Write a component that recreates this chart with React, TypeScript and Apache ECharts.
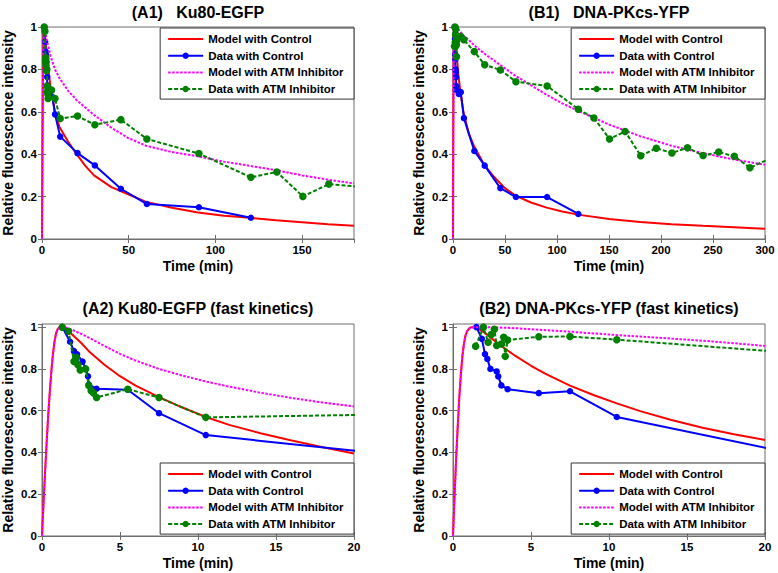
import React, { useEffect, useRef } from "react";
import * as echarts from "echarts";

const SERIES_NAMES = ["Model with Control", "Data with Control", "Model with ATM Inhibitor", "Data with ATM Inhibitor"];
const TITLES = ["(A1)   Ku80-EGFP", "(B1)   DNA-PKcs-YFP", "(A2) Ku80-EGFP (fast kinetics)", "(B2) DNA-PKcs-YFP (fast kinetics)"];
const X_NAME = "Time (min)";
const Y_NAME = "Relative fluorescence intensity";

// ---- Model curves, panel A1 (0-180 min)
const a1ModelTime = [0, 0.3, 0.6, 1.0, 1.3, 2, 3, 5, 7.5, 10, 15, 20, 25, 30, 40, 50, 60, 75, 90, 105, 120, 135, 150, 165, 180];
const a1ModelControl = [0, 0.45, 0.79, 0.99, 1.0, 0.93, 0.85, 0.71, 0.6, 0.53, 0.46, 0.4, 0.345, 0.3, 0.245, 0.21, 0.175, 0.147, 0.125, 0.11, 0.1, 0.088, 0.079, 0.07, 0.063];
const a1ModelATM = [0, 0.45, 0.79, 0.99, 1.0, 0.97, 0.93, 0.86, 0.8, 0.76, 0.7, 0.655, 0.62, 0.585, 0.525, 0.475, 0.44, 0.41, 0.39, 0.365, 0.345, 0.325, 0.3, 0.28, 0.262];

// ---- Model curves, panel B1 (0-300 min)
const b1ModelTime = [0, 0.3, 0.6, 1, 1.5, 2, 3, 5, 7.5, 10, 15, 20, 30, 40, 50, 60, 75, 90, 105, 120, 150, 180, 210, 240, 270, 300];
const b1ModelControl = [0, 0.52, 0.86, 0.99, 1.0, 0.975, 0.915, 0.78, 0.68, 0.6, 0.5, 0.44, 0.35, 0.29, 0.24, 0.205, 0.172, 0.148, 0.13, 0.115, 0.094, 0.08, 0.07, 0.062, 0.055, 0.048];
const b1ModelATM = [0, 0.52, 0.86, 0.99, 1.0, 1.0, 0.998, 0.99, 0.975, 0.96, 0.94, 0.915, 0.875, 0.84, 0.805, 0.77, 0.725, 0.68, 0.64, 0.605, 0.54, 0.485, 0.44, 0.405, 0.375, 0.35];

// ---- Model curves, fast kinetics panels (0-20 min)
const fastModelTime = [0, 0.1, 0.2, 0.3, 0.4, 0.5, 0.6, 0.7, 0.8, 0.9, 1.0, 1.1, 1.2, 1.3, 1.5, 2, 2.5, 3, 4, 5, 6, 7.5, 9, 10.5, 12, 14, 16, 18, 20];
const a2ModelControl = [0, 0.16, 0.31, 0.45, 0.58, 0.69, 0.79, 0.87, 0.93, 0.97, 0.99, 0.998, 1.0, 1.0, 0.995, 0.96, 0.925, 0.885, 0.82, 0.765, 0.72, 0.665, 0.615, 0.57, 0.532, 0.492, 0.457, 0.425, 0.395];
const a2ModelATM = [0, 0.16, 0.31, 0.45, 0.58, 0.69, 0.79, 0.87, 0.93, 0.97, 0.99, 0.998, 1.0, 1.0, 0.998, 0.985, 0.968, 0.95, 0.91, 0.872, 0.84, 0.8, 0.768, 0.74, 0.715, 0.686, 0.661, 0.639, 0.62];
const b2ModelControl = [0, 0.19, 0.37, 0.52, 0.66, 0.77, 0.86, 0.92, 0.96, 0.98, 0.99, 0.997, 1.0, 1.0, 0.998, 0.975, 0.945, 0.915, 0.862, 0.815, 0.774, 0.72, 0.675, 0.635, 0.598, 0.555, 0.518, 0.487, 0.46];
const b2ModelATM = [0, 0.19, 0.37, 0.52, 0.66, 0.77, 0.86, 0.92, 0.96, 0.98, 0.99, 0.997, 1.0, 1.0, 1.0, 1.0, 0.999, 0.998, 0.995, 0.99, 0.985, 0.978, 0.97, 0.962, 0.955, 0.945, 0.935, 0.923, 0.91];

// ---- Ku80-EGFP data
const kuControlFastTime = [1.3, 1.8, 2.05, 2.25, 2.6, 2.8, 2.95, 3.0, 3.5, 5.5, 7.5, 10.5, 20.5];
const kuControlFast = [1.0, 0.93, 0.885, 0.87, 0.835, 0.8, 0.765, 0.725, 0.705, 0.7, 0.588, 0.483, 0.405];
const kuControlSlowTime = [30.5, 45.5, 60.5, 90.5, 120.5];
const kuControlSlow = [0.347, 0.237, 0.165, 0.15, 0.1];
const kuATMFastTime = [1.3, 1.7, 2.05, 2.15, 2.2, 2.3, 2.45, 2.8, 3.0, 3.15, 3.3, 3.5, 5.5, 7.5, 10.5, 20.5];
const kuATMFast = [1.0, 0.98, 0.835, 0.845, 0.855, 0.82, 0.795, 0.8, 0.72, 0.695, 0.685, 0.663, 0.703, 0.663, 0.568, 0.58];
const kuATMSlowTime = [30.5, 45.5, 60.5, 90.5, 120.5, 135.5, 150.5, 165.5, 180.5];
const kuATMSlow = [0.539, 0.563, 0.472, 0.403, 0.291, 0.316, 0.201, 0.259, 0.248];

// ---- DNA-PKcs-YFP data
const pkControlFastTime = [1.5, 1.85, 2.05, 2.2, 2.4, 2.8, 2.9, 3.1, 3.5, 5.5, 7.5, 10.5, 20.5];
const pkControlFast = [1.0, 0.944, 0.871, 0.848, 0.8, 0.788, 0.764, 0.721, 0.703, 0.684, 0.693, 0.57, 0.415];
const pkControlSlowTime = [30.5, 45.5, 60.5, 90.5, 120.5];
const pkControlSlow = [0.346, 0.24, 0.198, 0.198, 0.118];
const pkATMFastTime = [1.45, 1.95, 2.25, 2.45, 2.65, 2.8, 3.1, 3.25, 3.35, 3.5, 5.5, 7.5, 10.5, 20.5];
const pkATMFast = [0.909, 1.0, 0.928, 0.965, 0.99, 0.912, 0.919, 0.951, 0.86, 0.938, 0.954, 0.955, 0.94, 0.884];
const pkATMSlowTime = [30.5, 45.5, 60.5, 90.5, 120.5, 135.5, 150.5, 165.5, 180.5, 195.5, 210.5, 225.5, 240.5, 255.5, 270.5, 285.5, 300.5];
const pkATMSlow = [0.822, 0.797, 0.742, 0.722, 0.612, 0.571, 0.472, 0.507, 0.393, 0.428, 0.406, 0.43, 0.394, 0.41, 0.39, 0.336, 0.37];

// ---- Axis ranges
const X_MAX = [180, 300, 20, 20];
const X_INTERVAL = [50, 50, 5, 5];
const Y_MAX = [1, 1, 1.015, 1.015];
const Y_INTERVAL = 0.2;

const FONT = "'Liberation Sans', Arial, Helvetica, sans-serif";

const zip = (t: number[], v: number[]) => t.map((x, i) => [x, v[i]]);

export default function App() {
  const ref = useRef<HTMLDivElement>(null);

  useEffect(() => {
    if (!ref.current) return;
    const chart = echarts.init(ref.current, undefined, { renderer: "svg" });

    const grids = [
      { left: 42, top: 27, width: 312, height: 212 },
      { left: 453, top: 27, width: 312, height: 212 },
      { left: 42, top: 324, width: 312, height: 212 },
      { left: 453, top: 324, width: 312, height: 212 },
    ];

    const panels = [
      {
        mt: a1ModelTime, mc: a1ModelControl, ma: a1ModelATM,
        dc: zip(kuControlFastTime.concat(kuControlSlowTime), kuControlFast.concat(kuControlSlow)),
        da: zip(kuATMFastTime.concat(kuATMSlowTime), kuATMFast.concat(kuATMSlow)),
      },
      {
        mt: b1ModelTime, mc: b1ModelControl, ma: b1ModelATM,
        dc: zip(pkControlFastTime.concat(pkControlSlowTime), pkControlFast.concat(pkControlSlow)),
        da: zip(pkATMFastTime.concat(pkATMSlowTime), pkATMFast.concat(pkATMSlow)),
      },
      {
        mt: fastModelTime, mc: a2ModelControl, ma: a2ModelATM,
        dc: zip(kuControlFastTime, kuControlFast),
        da: zip(kuATMFastTime, kuATMFast),
      },
      {
        mt: fastModelTime, mc: b2ModelControl, ma: b2ModelATM,
        dc: zip(pkControlFastTime, pkControlFast),
        da: zip(pkATMFastTime, pkATMFast),
      },
    ];

    const boxColor = "#6e6e6e";
    const labelStyle = { color: "#000", fontWeight: "bold" as const, fontSize: 11.5, fontFamily: FONT };

    const xAxes: any[] = [];
    const yAxes: any[] = [];
    for (let i = 0; i < 4; i++) {
      xAxes.push({
        type: "value", gridIndex: i, min: 0, max: X_MAX[i], interval: X_INTERVAL[i], position: "bottom",
        name: X_NAME, nameLocation: "middle", nameGap: 20,
        nameTextStyle: { color: "#000", fontWeight: "bold", fontSize: 14, fontFamily: FONT },
        axisLine: { show: true, lineStyle: { color: boxColor, width: 1 } },
        axisTick: { show: true, inside: true, length: 4, lineStyle: { color: boxColor } },
        axisLabel: { ...labelStyle, margin: 5, showMaxLabel: X_MAX[i] % X_INTERVAL[i] === 0 },
        splitLine: { show: false },
      });
      yAxes.push({
        type: "value", gridIndex: i, min: 0, max: Y_MAX[i], interval: Y_INTERVAL, position: "left",
        name: Y_NAME, nameLocation: "middle", nameGap: 27,
        nameTextStyle: { color: "#000", fontWeight: "bold", fontSize: 14, fontFamily: FONT },
        axisLine: { show: true, lineStyle: { color: boxColor, width: 1 } },
        axisTick: { show: true, inside: true, length: 4, lineStyle: { color: boxColor } },
        axisLabel: { ...labelStyle, margin: 5, showMaxLabel: Y_MAX[i] === 1 },
        splitLine: { show: false },
      });
    }
    // mirrored ticks on top and right edges
    for (let i = 0; i < 4; i++) {
      xAxes.push({
        type: "value", gridIndex: i, min: 0, max: X_MAX[i], interval: X_INTERVAL[i], position: "top",
        axisLine: { show: false }, axisLabel: { show: false }, splitLine: { show: false },
        axisTick: { show: true, inside: true, length: 4, lineStyle: { color: boxColor } },
      });
      yAxes.push({
        type: "value", gridIndex: i, min: 0, max: Y_MAX[i], interval: Y_INTERVAL, position: "right",
        axisLine: { show: false }, axisLabel: { show: false }, splitLine: { show: false },
        axisTick: { show: true, inside: true, length: 4, lineStyle: { color: boxColor } },
      });
    }

    const series: any[] = [];
    panels.forEach((p, i) => {
      const base = { type: "line", xAxisIndex: i, yAxisIndex: i, clip: true, showAllSymbol: true };
      series.push({
        ...base, name: SERIES_NAMES[0], data: zip(p.mt, p.mc), symbol: "circle", showSymbol: false,
        itemStyle: { color: "#ff0000" }, lineStyle: { color: "#ff0000", width: 2 }, z: 2,
      });
      series.push({
        ...base, name: SERIES_NAMES[1], data: p.dc, symbol: "circle", symbolSize: 6.5,
        itemStyle: { color: "#0000ff" }, lineStyle: { color: "#0000ff", width: 2 }, z: 3,
      });
      series.push({
        ...base, name: SERIES_NAMES[2], data: zip(p.mt, p.ma), symbol: "circle", showSymbol: false,
        itemStyle: { color: "#ff00ff" }, lineStyle: { color: "#ff00ff", width: 2, type: [2.5, 1.5] }, z: 4,
      });
      series.push({
        ...base, name: SERIES_NAMES[3], data: p.da, symbol: "circle", symbolSize: 7.5,
        itemStyle: { color: "#008000" }, lineStyle: { color: "#008000", width: 2, type: [4, 2] }, z: 5,
      });
    });

    const legendData = [
      { name: SERIES_NAMES[0], itemStyle: { opacity: 0 } },
      { name: SERIES_NAMES[1] },
      { name: SERIES_NAMES[2], itemStyle: { opacity: 0 } },
      { name: SERIES_NAMES[3] },
    ];
    const legends = grids.map((g, i) => ({
      orient: "vertical",
      right: 778 - (g.left + g.width),
      top: i < 2 ? 28 : 463,
      data: legendData,
      itemWidth: 35,
      itemHeight: 8,
      itemGap: 4.7,
      padding: [5, 10, 4, 7],
      borderColor: "#333",
      borderWidth: 1,
      backgroundColor: "#fff",
      selectedMode: false,
      textStyle: { color: "#000", fontWeight: "bold", fontSize: 11.5, fontFamily: FONT },
      z: 10,
    }));

    const titleGraphics = grids.map((g, i) => ({
      type: "text",
      x: g.left + g.width / 2,
      y: i < 2 ? 12 : 308,
      style: {
        text: TITLES[i],
        align: "center",
        verticalAlign: "middle",
        font: `bold 16px ${FONT}`,
        fill: "#000",
      },
    }));

    chart.setOption({
      animation: false,
      backgroundColor: "#fff",
      grid: grids.map((g) => ({ ...g, show: true, borderColor: boxColor, borderWidth: 1, backgroundColor: "#fff", containLabel: false })),
      xAxis: xAxes,
      yAxis: yAxes,
      legend: legends,
      series,
      graphic: titleGraphics,
    });

    return () => chart.dispose();
  }, []);

  return <div ref={ref} style={{ position: "fixed", left: 0, top: 0, width: 778, height: 573, background: "#fff" }} />;
}
